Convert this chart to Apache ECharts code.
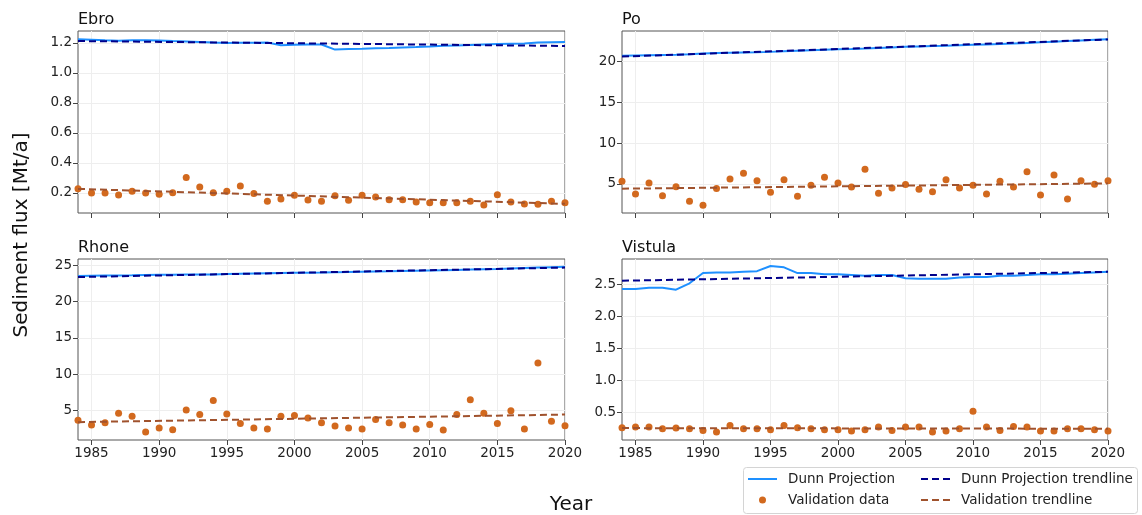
<!DOCTYPE html>
<html>
<head>
<meta charset="utf-8">
<script src="https://cdn.jsdelivr.net/npm/echarts@6/dist/echarts.min.js"></script>
<style>
  html, body { margin: 0; padding: 0; background: #fff; }
  #chart { width: 1142px; height: 515px; }
</style>
</head>
<body>
<div id="chart"></div>
<script>
// Years of record
const years = [1984, 1985, 1986, 1987, 1988, 1989, 1990, 1991, 1992, 1993, 1994, 1995,
  1996, 1997, 1998, 1999, 2000, 2001, 2002, 2003, 2004, 2005, 2006, 2007, 2008,
  2009, 2010, 2011, 2012, 2013, 2014, 2015, 2016, 2017, 2018, 2019, 2020];
const yearTicks = [1985, 1990, 1995, 2000, 2005, 2010, 2015, 2020];

// Ebro (Mt/a)
const ebroProjection = [1.225, 1.222, 1.218, 1.215, 1.218, 1.218, 1.217, 1.213, 1.210, 1.207,
  1.203, 1.200, 1.201, 1.201, 1.203, 1.185, 1.188, 1.190, 1.190, 1.156, 1.160, 1.162, 1.165,
  1.167, 1.170, 1.173, 1.177, 1.182, 1.184, 1.186, 1.190, 1.193, 1.195, 1.197, 1.203, 1.205, 1.206];
const ebroValidation = [0.227, 0.198, 0.198, 0.185, 0.211, 0.198, 0.190, 0.200, 0.302, 0.238,
  0.200, 0.211, 0.245, 0.196, 0.143, 0.158, 0.183, 0.152, 0.143, 0.180, 0.150, 0.183, 0.172,
  0.154, 0.154, 0.138, 0.134, 0.134, 0.134, 0.143, 0.118, 0.187, 0.138, 0.125, 0.123, 0.143, 0.134];
const ebroProjectionTrend = [1.213, 1.180];
const ebroValidationTrend = [0.226, 0.126];
const ebroTicks = [0.2, 0.4, 0.6, 0.8, 1.0, 1.2];

// Po (Mt/a)
const poProjection = [20.72, 20.76, 20.80, 20.83, 20.86, 20.92, 20.99, 21.05, 21.09, 21.12,
  21.14, 21.20, 21.28, 21.35, 21.41, 21.47, 21.52, 21.56, 21.61, 21.68, 21.75, 21.82, 21.87,
  21.92, 21.96, 22.01, 22.06, 22.11, 22.16, 22.22, 22.30, 22.38, 22.45, 22.52, 22.60, 22.68, 22.76];
const poValidation = [5.32, 3.77, 5.12, 3.57, 4.67, 2.87, 2.38, 4.43, 5.61, 6.30, 5.40, 3.97,
  5.53, 3.49, 4.84, 5.82, 5.12, 4.63, 6.80, 3.85, 4.51, 4.92, 4.35, 4.06, 5.53, 4.51, 4.84,
  3.77, 5.32, 4.63, 6.51, 3.65, 6.10, 3.16, 5.40, 4.96, 5.40];
const poProjectionTrend = [20.62, 22.72];
const poValidationTrend = [4.42, 5.07];
const poTicks = [5, 10, 15, 20];

// Rhone (Mt/a)
const rhoneProjection = [23.52, 23.55, 23.58, 23.60, 23.62, 23.65, 23.68, 23.70, 23.71, 23.72,
  23.73, 23.78, 23.83, 23.87, 23.90, 23.93, 23.96, 23.98, 24.00, 24.03, 24.06, 24.10, 24.13,
  24.16, 24.20, 24.24, 24.28, 24.32, 24.36, 24.40, 24.45, 24.50, 24.56, 24.62, 24.68, 24.74, 24.80];
const rhoneValidation = [3.68, 3.00, 3.32, 4.63, 4.22, 2.04, 2.59, 2.36, 5.08, 4.45, 6.40, 4.54,
  3.22, 2.59, 2.45, 4.22, 4.31, 3.99, 3.32, 2.86, 2.59, 2.45, 3.77, 3.32, 3.00, 2.45, 3.09,
  2.32, 4.45, 6.49, 4.63, 3.22, 4.99, 2.45, 11.54, 3.54, 2.90];
const rhoneProjectionTrend = [23.38, 24.68];
const rhoneValidationTrend = [3.41, 4.45];
const rhoneTicks = [5, 10, 15, 20, 25];

// Vistula (Mt/a)
const vistulaProjection = [2.43, 2.43, 2.45, 2.45, 2.42, 2.52, 2.68, 2.69, 2.69, 2.70, 2.71,
  2.79, 2.77, 2.68, 2.68, 2.66, 2.66, 2.65, 2.64, 2.65, 2.65, 2.60, 2.59, 2.59, 2.59, 2.61,
  2.62, 2.62, 2.64, 2.64, 2.65, 2.66, 2.66, 2.67, 2.68, 2.69, 2.70];
const vistulaValidation = [0.262, 0.273, 0.273, 0.247, 0.257, 0.247, 0.221, 0.195, 0.299, 0.247,
  0.247, 0.232, 0.299, 0.263, 0.247, 0.232, 0.232, 0.211, 0.232, 0.273, 0.221, 0.273, 0.273,
  0.195, 0.211, 0.247, 0.520, 0.273, 0.221, 0.283, 0.273, 0.211, 0.211, 0.247, 0.247, 0.232, 0.211];
const vistulaProjectionTrend = [2.56, 2.70];
const vistulaValidationTrend = [0.257, 0.247];
const vistulaTicks = [0.5, 1.0, 1.5, 2.0, 2.5];

const FONT = 'DejaVu Sans';
const C_PROJ = '#1E90FF';
const C_PROJ_TREND = '#00008B';
const C_VAL = '#D2691E';
const C_VAL_TREND = '#A0522D';

const panels = [
  { title: 'Ebro', proj: ebroProjection, val: ebroValidation, pt: ebroProjectionTrend,
    vt: ebroValidationTrend, ticks: ebroTicks, dec: 1, ymin: 0.065, ymax: 1.28,
    grid: { left: 78, top: 31, width: 487, height: 182 }, xLabels: false },
  { title: 'Po', proj: poProjection, val: poValidation, pt: poProjectionTrend,
    vt: poValidationTrend, ticks: poTicks, dec: 0, ymin: 1.44, ymax: 23.76,
    grid: { left: 622, top: 31, width: 486, height: 182 }, xLabels: false },
  { title: 'Rhone', proj: rhoneProjection, val: rhoneValidation, pt: rhoneProjectionTrend,
    vt: rhoneValidationTrend, ticks: rhoneTicks, dec: 0, ymin: 0.95, ymax: 25.86,
    grid: { left: 78, top: 259, width: 487, height: 181 }, xLabels: true },
  { title: 'Vistula', proj: vistulaProjection, val: vistulaValidation, pt: vistulaProjectionTrend,
    vt: vistulaValidationTrend, ticks: vistulaTicks, dec: 1, ymin: 0.071, ymax: 2.90,
    grid: { left: 622, top: 259, width: 486, height: 181 }, xLabels: true }
];

const grids = [], xAxes = [], yAxes = [], series = [], titles = [];
const firstYear = years[0], lastYear = years[years.length - 1];

panels.forEach((p, i) => {
  grids.push(Object.assign({ show: true, borderColor: '#555', borderWidth: 1,
    backgroundColor: 'transparent' }, p.grid));
  titles.push({ text: p.title, left: p.grid.left, top: p.grid.top - 19,
    padding: 0, textStyle: { fontFamily: FONT, fontSize: 16, fontWeight: 'normal', color: '#111' } });
  xAxes.push({
    type: 'value', gridIndex: i, min: firstYear, max: lastYear,
    axisLine: { show: false },
    axisTick: { show: true, length: 5, customValues: yearTicks, lineStyle: { color: '#444' } },
    axisLabel: { show: p.xLabels, customValues: yearTicks, margin: 6, fontFamily: FONT,
      fontSize: 13.5, color: '#222', formatter: v => String(v) },
    splitLine: { show: true, lineStyle: { color: '#eeeeee', width: 1 } }
  });
  yAxes.push({
    type: 'value', gridIndex: i, min: p.ymin, max: p.ymax,
    axisLine: { show: false },
    axisTick: { show: true, length: 5, customValues: p.ticks, lineStyle: { color: '#444' } },
    axisLabel: { customValues: p.ticks, margin: 6, fontFamily: FONT, fontSize: 13.5, color: '#222',
      formatter: v => Number(v).toFixed(p.dec) },
    splitLine: { show: true, lineStyle: { color: '#eeeeee', width: 1 } }
  });
  series.push({
    name: 'Dunn Projection', type: 'line', xAxisIndex: i, yAxisIndex: i,
    data: years.map((y, k) => [y, p.proj[k]]), symbol: 'none',
    lineStyle: { color: C_PROJ, width: 2 }, itemStyle: { color: C_PROJ }, z: 2
  });
  series.push({
    name: 'Validation data', type: 'scatter', xAxisIndex: i, yAxisIndex: i,
    data: years.map((y, k) => [y, p.val[k]]), symbolSize: 7,
    itemStyle: { color: C_VAL, opacity: 1 }, z: 3
  });
  series.push({
    name: 'Dunn Projection trendline', type: 'line', xAxisIndex: i, yAxisIndex: i,
    data: [[firstYear, p.pt[0]], [lastYear, p.pt[1]]], symbol: 'none',
    lineStyle: { color: C_PROJ_TREND, width: 2, type: [7, 4] }, itemStyle: { color: C_PROJ_TREND }, z: 4
  });
  series.push({
    name: 'Validation trendline', type: 'line', xAxisIndex: i, yAxisIndex: i,
    data: [[firstYear, p.vt[0]], [lastYear, p.vt[1]]], symbol: 'none',
    lineStyle: { color: C_VAL_TREND, width: 2, type: [7, 4] }, itemStyle: { color: C_VAL_TREND }, z: 4
  });
});

const legendText = { fontFamily: FONT, fontSize: 13.5, color: '#222', padding: [0, 0, 0, 6] };
// line entries show only their stroke, no marker
const lineOnly = { opacity: 0 };

const option = {
  animation: false,
  backgroundColor: '#fff',
  title: titles,
  grid: grids,
  xAxis: xAxes,
  yAxis: yAxes,
  series: series,
  legend: [
    { data: [{ name: 'Dunn Projection', itemStyle: lineOnly }, 'Validation data'],
      orient: 'vertical', left: 747, top: 472,
      padding: 0, itemWidth: 29, itemHeight: 7, itemGap: 7, textStyle: legendText, selectedMode: false },
    { data: [{ name: 'Dunn Projection trendline', itemStyle: lineOnly },
             { name: 'Validation trendline', itemStyle: lineOnly }],
      orient: 'vertical', left: 920, top: 472,
      padding: 0, itemWidth: 29, itemHeight: 7, itemGap: 7, textStyle: legendText, selectedMode: false }
  ],
  graphic: [
    { type: 'rect', left: 743, top: 467, z: 0,
      shape: { width: 394, height: 46, r: 3 },
      style: { fill: '#fff', stroke: '#d4d4d4', lineWidth: 1 } },
    { type: 'text', left: 'center', top: 495,
      style: { text: 'Year', font: '20px "DejaVu Sans"', fill: '#111' } },
    { type: 'text', x: 22, y: 235, rotation: Math.PI / 2,
      style: { text: 'Sediment flux [Mt/a]', font: '20px "DejaVu Sans"', fill: '#111',
        align: 'center', verticalAlign: 'middle' } }
  ]
};

const chart = echarts.init(document.getElementById('chart'), null, { renderer: 'canvas' });
chart.setOption(option);
</script>
</body>
</html>
